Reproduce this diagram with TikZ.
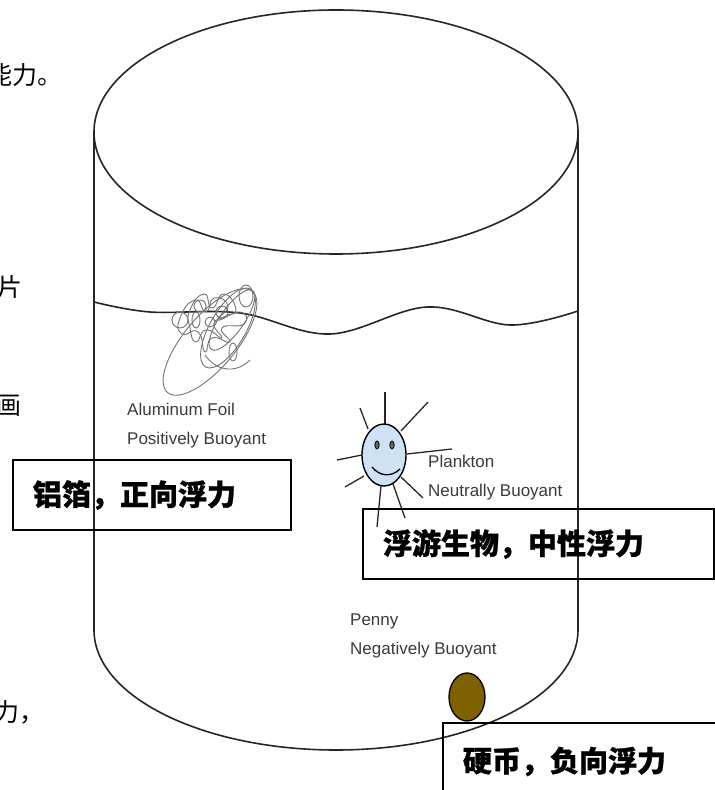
\documentclass[tikz,border=0pt]{standalone}
\usepackage{fontspec}
\setmainfont{Liberation Sans}
\newfontfamily\cjk{Noto Sans CJK SC}[BoldFeatures={FakeBold=1}]

\definecolor{facefill}{HTML}{CFE2F3}
\definecolor{copper}{HTML}{7F6000}
\definecolor{inkgray}{HTML}{3A3A3A}

\tikzset{
    tag/.style = {font=\fontsize{17}{29}\selectfont, text=inkgray, align=left, anchor=west, inner sep=0pt},
    cjkbox/.style = {draw, line width=1.6pt, font=\cjk\bfseries\fontsize{29}{34}\selectfont, align=left, inner xsep=20pt, inner ysep=0pt},
    margin/.style = {font=\cjk\fontsize{25}{30}\selectfont, anchor=east, inner sep=0pt},
    foil/.style = {draw=black!55, line width=0.9pt},
    ray/.style = {line width=1.3pt, color=black!85}
}

\begin{document}
\begin{tikzpicture}[x=1pt, y=1pt]
    \useasboundingbox (0,0) rectangle (715,790);

    % bits of the page text beside the figure
    \node[margin] (m1) at (63,715) {能力。};
    \node[margin] (m2) at (23,503) {片};
    \node[margin] (m3) at (22,384) {画};
    \node[margin] (m4) at (45,78) {力，};

    % the jar and the water surface
    \begin{scope}[line width=1.6pt, color=black!85]
        \draw (336,658) ellipse[x radius=242, y radius=122];
        \draw (94,658) -- (94,160) arc[start angle=180, end angle=360, x radius=242, y radius=120] -- (578,658);
        \draw plot[smooth, tension=0.6] coordinates{(94,488) (150,478) (240,477) (330,456) (427,483) (510,465) (578,479)};
    \end{scope}

    % crumpled foil
    \draw[foil, rotate around={50:(210,448)}] (210,448) ellipse[x radius=66, y radius=26];
    \draw[foil, rotate around={60:(228,462)}] (228,462) ellipse[x radius=45, y radius=18];
    \draw[foil, rotate around={55:(232,470)}] (232,470) ellipse[x radius=36, y radius=12];
    \draw[foil] plot[smooth cycle, tension=1] coordinates{(180,472) (195,490) (206,478) (214,492) (228,484) (218,470) (240,478) (244,466) (222,462) (230,448) (212,452) (205,438) (198,458) (182,456)};
    \draw[foil] plot[smooth cycle, tension=1] coordinates{(190,480) (204,496) (212,482) (224,496) (236,480) (226,474) (214,466) (222,452) (206,460) (196,448) (190,462)};
    \draw[foil] (180,470) circle (8);
    \draw[foil] (200,484) circle (6);
    \draw[foil] (222,478) circle (6);
    \draw[foil] (210,468) circle (5);
    \draw[foil] (196,470) ellipse[x radius=4, y radius=8];
    \draw[foil] (246,494) ellipse[x radius=7, y radius=11];
    \draw[foil] (233,438) ellipse[x radius=4, y radius=9];
    \draw[foil] (205,435) .. controls (215,420) and (235,415) .. (250,430);
    \node[tag] (foiltag) at (127,364) {Aluminum Foil\\Positively Buoyant};

    % plankton
    \draw[ray] (385,366) -- (385,398);
    \draw[ray] (401,359) -- (428,388);
    \draw[ray] (368,361) -- (360,382);
    \draw[ray] (362,335) -- (337,330);
    \draw[ray] (364,314) -- (345,303);
    \draw[ray] (407,336) -- (452,341);
    \draw[ray] (381,304) -- (377,263);
    \draw[ray] (393,306) -- (405,272);
    \draw[ray] (401,313) -- (423,292);
    \draw[fill=facefill, line width=1.4pt] (384,335) ellipse[x radius=22, y radius=31];
    \draw[fill=black!60, line width=0.8pt] (377,345) ellipse[x radius=2.2, y radius=4];
    \draw[fill=black!60, line width=0.8pt] (392,345) ellipse[x radius=2.2, y radius=4];
    \draw[line width=1.3pt] (372,323) .. controls (380,313) and (392,313) .. (400,321);
    \node[tag] (planktag) at (428,312) {Plankton\\Neutrally Buoyant};

    % penny on the bottom
    \draw[fill=copper, line width=1.3pt] (467,93) ellipse[x radius=18, y radius=24];
    \node[tag] (pennytag) at (350,154) {Penny\\Negatively Buoyant};

    % Chinese captions
    \node[cjkbox, text width=238pt, minimum height=70pt] (foilbox) at (152,295) {铝箔，正向浮力};
    \node[cjkbox, text width=311pt, minimum height=70pt] (plankbox) at (538.5,246) {浮游生物，中性浮力};
    \node[cjkbox, text width=260pt, minimum height=77pt] (pennybox) at (593,28.5) {硬币，负向浮力};
\end{tikzpicture}
\end{document}
